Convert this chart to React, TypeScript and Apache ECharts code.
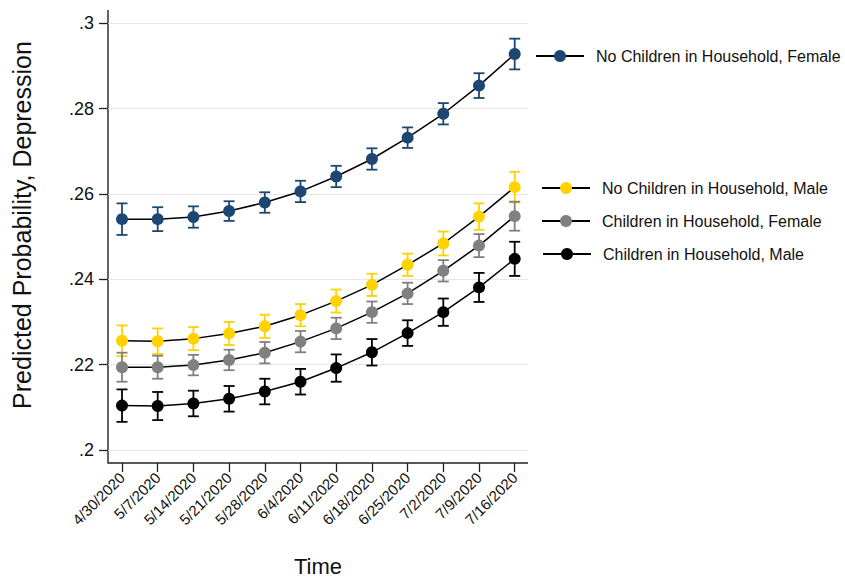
import React, { useEffect, useRef } from "react";
import * as echarts from "echarts";

const dates = ["4/30/2020", "5/7/2020", "5/14/2020", "5/21/2020", "5/28/2020", "6/4/2020", "6/11/2020", "6/18/2020", "6/25/2020", "7/2/2020", "7/9/2020", "7/16/2020"];

const yTicks = [0.2, 0.22, 0.24, 0.26, 0.28, 0.3];

const noChildFemale = [0.2541, 0.2541, 0.2546, 0.256, 0.258, 0.2606, 0.2641, 0.2682, 0.2732, 0.2788, 0.2854, 0.2928];
const noChildFemaleErr = [0.0037, 0.0028, 0.0025, 0.0023, 0.0024, 0.0025, 0.0025, 0.0025, 0.0024, 0.0025, 0.0029, 0.0036];
const noChildMale = [0.2256, 0.2255, 0.2261, 0.2273, 0.229, 0.2316, 0.2349, 0.2387, 0.2434, 0.2484, 0.2547, 0.2616];
const noChildMaleErr = [0.0036, 0.003, 0.0027, 0.0027, 0.0027, 0.0026, 0.0027, 0.0026, 0.0026, 0.0028, 0.0031, 0.0036];
const childFemale = [0.2194, 0.2194, 0.2199, 0.2211, 0.2228, 0.2254, 0.2285, 0.2323, 0.2367, 0.242, 0.2479, 0.2548];
const childFemaleErr = [0.0034, 0.0027, 0.0024, 0.0024, 0.0025, 0.0025, 0.0025, 0.0025, 0.0025, 0.0025, 0.0027, 0.0034];
const childMale = [0.2104, 0.2103, 0.2109, 0.212, 0.2137, 0.216, 0.2192, 0.2229, 0.2274, 0.2323, 0.2381, 0.2448];
const childMaleErr = [0.0038, 0.0033, 0.003, 0.003, 0.003, 0.003, 0.0032, 0.0031, 0.003, 0.0032, 0.0034, 0.004];

const seriesDefs = [
  { name: "No Children in Household, Female", values: noChildFemale, errs: noChildFemaleErr, color: "#1c4773" },
  { name: "No Children in Household, Male", values: noChildMale, errs: noChildMaleErr, color: "#ffd200" },
  { name: "Children in Household, Female", values: childFemale, errs: childFemaleErr, color: "#808080" },
  { name: "Children in Household, Male", values: childMale, errs: childMaleErr, color: "#000000" },
];

const legendPos = [
  { left: 535, top: 48 },
  { left: 541, top: 180 },
  { left: 541, top: 213 },
  { left: 542, top: 246 },
];

const FONT = "'Liberation Sans', Arial, Helvetica, sans-serif";

export default function App() {
  const ref = useRef<HTMLDivElement>(null);
  useEffect(() => {
    document.body.style.margin = "0";
    if (!ref.current) return;
    const chart = echarts.init(ref.current, null, { renderer: "svg" });

    const errSeries = seriesDefs.map((s, si) => ({
      type: "custom",
      name: "err" + si,
      xAxisIndex: 1,
      yAxisIndex: 1,
      z: 2,
      data: s.values.map((v, i) => [i, v - s.errs[i], v + s.errs[i]]),
      encode: { x: 0, y: [1, 2] },
      renderItem: (params: any, api: any) => {
        const x = api.value(0);
        const lo = api.coord([x, api.value(1)]);
        const hi = api.coord([x, api.value(2)]);
        const w = 5.5;
        const st = { stroke: s.color, lineWidth: 1.8 };
        return {
          type: "group",
          children: [
            { type: "line", shape: { x1: lo[0], y1: lo[1], x2: hi[0], y2: hi[1] }, style: st },
            { type: "line", shape: { x1: lo[0] - w, y1: lo[1], x2: lo[0] + w, y2: lo[1] }, style: st },
            { type: "line", shape: { x1: hi[0] - w, y1: hi[1], x2: hi[0] + w, y2: hi[1] }, style: st },
          ],
        };
      },
    }));

    const lineSeries = seriesDefs.map((s) => ({
      type: "line",
      name: s.name,
      xAxisIndex: 1,
      yAxisIndex: 1,
      z: 3,
      data: s.values,
      symbol: "circle",
      symbolSize: 12,
      itemStyle: { color: s.color },
      lineStyle: { color: "#000", width: 1.5 },
    }));

    chart.setOption({
      animation: false,
      backgroundColor: "#ffffff",
      grid: [
        { left: 108, right: 317, top: 23.3, bottom: 127 },
        { left: 122, right: 330.3, top: 23.3, bottom: 127 },
      ],
      xAxis: [
        { type: "value", gridIndex: 0, show: false, min: 0, max: 1 },
        {
          type: "category",
          gridIndex: 1,
          data: dates,
          boundaryGap: false,
          offset: 13,
          axisLine: { show: false },
          axisTick: { show: true, length: 9, lineStyle: { color: "#222", width: 1.3 } },
          axisLabel: { rotate: 45, fontSize: 15, fontFamily: FONT, color: "#111", margin: 12, interval: 0 },
          splitLine: { show: false },
        },
      ],
      yAxis: [
        {
          type: "value",
          gridIndex: 0,
          min: 0.2,
          max: 0.3,
          interval: 0.02,
          axisLine: { show: false },
          axisTick: { show: true, length: 9, lineStyle: { color: "#222", width: 1.3 } },
          axisLabel: {
            fontSize: 18,
            fontFamily: FONT,
            color: "#111",
            margin: 14,
            formatter: (v: number) => {
              const t = yTicks.find((k) => Math.abs(k - v) < 1e-6);
              if (t === undefined) return "";
              return String(parseFloat(t.toFixed(2))).replace(/^0/, "");
            },
          },
          splitLine: { show: true, lineStyle: { color: "#e6e6e6", width: 1 } },
        },
        { type: "value", gridIndex: 1, min: 0.2, max: 0.3, show: false },
      ],
      legend: seriesDefs.map((s, i) => ({
        data: [s.name],
        left: legendPos[i].left,
        top: legendPos[i].top,
        padding: 0,
        itemWidth: 48,
        itemHeight: 15,
        selectedMode: false,
        textStyle: { fontSize: 16, fontFamily: FONT, color: "#111", padding: [0, 0, 0, 7] },
      })),
      graphic: [
        {
          type: "polyline",
          shape: { points: [[108, 10], [108, 463], [528, 463]] },
          style: { stroke: "#222", lineWidth: 1.4, fill: "none" },
          silent: true,
        },
        {
          type: "text",
          x: 22,
          y: 225,
          rotation: Math.PI / 2,
          style: {
            text: "Predicted Probability, Depression",
            fontSize: 25,
            fontFamily: FONT,
            fill: "#111",
            align: "center",
            verticalAlign: "middle",
          },
        },
        {
          type: "text",
          x: 318,
          y: 566,
          style: {
            text: "Time",
            fontSize: 22,
            fontFamily: FONT,
            fill: "#111",
            align: "center",
            verticalAlign: "middle",
          },
        },
      ],
      series: [...errSeries, ...lineSeries],
    });
    return () => chart.dispose();
  }, []);
  return <div ref={ref} style={{ width: 845, height: 577 }} />;
}
